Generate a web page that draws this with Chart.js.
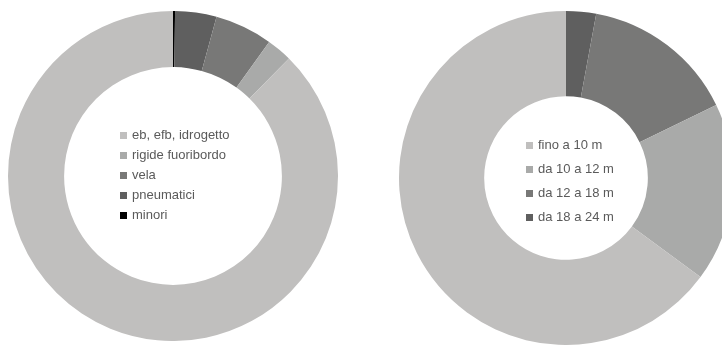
<!DOCTYPE html>
<html>
<head>
<meta charset="utf-8">
<script src="https://cdn.jsdelivr.net/npm/chart.js@4"></script>
<style>
  body { margin: 0; width: 722px; height: 346px; overflow: hidden; background: #fff; position: relative; }
  .box { position: absolute; }
  .legend { position: absolute; font-family: "Liberation Sans", Arial, sans-serif; font-size: 13px; color: #5a5a5a; }
  .legend div { position: relative; height: 20px; line-height: 20px; padding-left: 12px; white-space: nowrap; }
  .legend span { position: absolute; left: 0; top: 7px; width: 7px; height: 7px; }
</style>
</head>
<body>
<div class="box" id="box1" style="left:8px;top:11px;width:330px;height:330px"><canvas id="donut-1"></canvas></div>
<div class="box" id="box2" style="left:399px;top:11px;width:334px;height:334px"><canvas id="donut-2"></canvas></div>
<div class="legend" id="legend-1" style="left:120px;top:125px"></div>
<div class="legend" id="legend-2" style="left:526px;top:133px"></div>
<script>
// tipologia (left chart), legend order
const labels1 = ["eb, efb, idrogetto", "rigide fuoribordo", "vela", "pneumatici", "minori"];
const values1 = [87.6, 2.5, 5.65, 4.05, 0.2];
const colors1 = ["#c0bfbe", "#a9aaa9", "#787877", "#5f5f5f", "#000000"];

// lunghezza (right chart), legend order
const labels2 = ["fino a 10 m", "da 10 a 12 m", "da 12 a 18 m", "da 18 a 24 m"];
const values2 = [64.9, 17.3, 14.9, 2.9];
const colors2 = ["#c0bfbe", "#a9aaa9", "#787877", "#5f5f5f"];

function createDonutChart(canvasId, labels, values, colors, cutout) {
    const ctx = document.getElementById(canvasId).getContext("2d");
    // slices run clockwise from the top starting with the last category
    new Chart(ctx, {
        type: "doughnut",
        data: {
            labels: labels.slice().reverse(),
            datasets: [{
                data: values.slice().reverse(),
                backgroundColor: colors.slice().reverse(),
                borderWidth: 0,
                hoverOffset: 0,
                offset: 0
            }]
        },
        options: {
            responsive: true,
            maintainAspectRatio: false,
            animation: false,
            cutout: cutout,
            layout: { padding: 0 },
            plugins: {
                legend: { display: false },
                tooltip: { enabled: false }
            }
        }
    });
}

function buildLegend(id, labels, colors, rowHeight) {
    const el = document.getElementById(id);
    labels.forEach(function (txt, i) {
        const row = document.createElement("div");
        row.style.height = rowHeight + "px";
        row.style.lineHeight = rowHeight + "px";
        const sq = document.createElement("span");
        sq.style.background = colors[i];
        sq.style.top = Math.round((rowHeight - 7) / 2) + "px";
        row.appendChild(sq);
        row.appendChild(document.createTextNode(txt));
        el.appendChild(row);
    });
}

createDonutChart("donut-1", labels1, values1, colors1, "66%");
createDonutChart("donut-2", labels2, values2, colors2, "49%");
buildLegend("legend-1", labels1, colors1, 20);
buildLegend("legend-2", labels2, colors2, 24);
</script>
</body>
</html>
